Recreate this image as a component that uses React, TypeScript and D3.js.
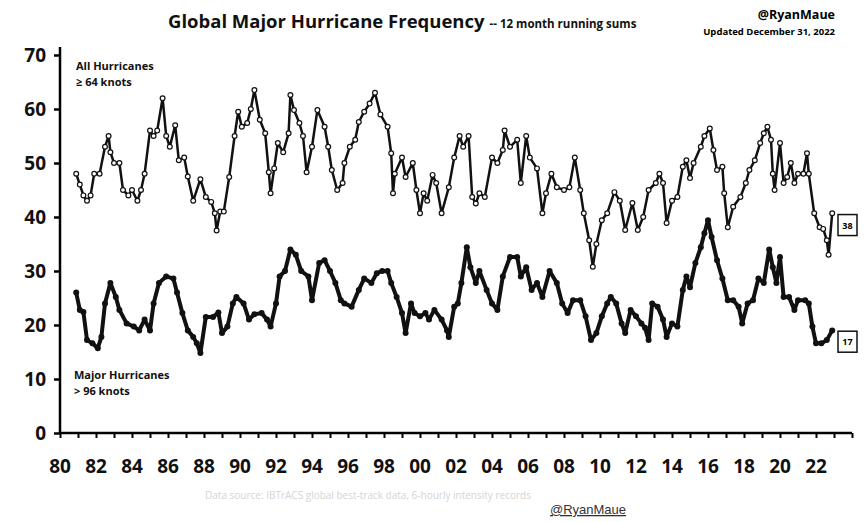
import React, { useEffect, useRef } from 'react';
import * as d3 from 'd3';

// 12-month running sums (decimal year, count)
const allYears = [
  1980.9, 1981.1, 1981.3, 1981.5, 1981.7, 1981.9, 1982.2, 1982.5, 1982.7, 1982.8,
  1983.0, 1983.3, 1983.5, 1983.8, 1984.0, 1984.3, 1984.5, 1984.7, 1985.0, 1985.2,
  1985.4, 1985.7, 1985.9, 1986.1, 1986.4, 1986.6, 1986.9, 1987.1, 1987.4, 1987.8,
  1988.1, 1988.4, 1988.6, 1988.7, 1988.9, 1989.1, 1989.4, 1989.7, 1989.9, 1990.1,
  1990.4, 1990.6, 1990.8, 1991.1, 1991.4, 1991.6, 1991.7, 1991.9, 1992.1, 1992.4,
  1992.7, 1992.8, 1993.0, 1993.3, 1993.5, 1993.7, 1994.0, 1994.3, 1994.7, 1994.9,
  1995.1, 1995.4, 1995.7, 1995.8, 1996.1, 1996.4, 1996.6, 1996.9, 1997.2, 1997.5,
  1997.8, 1998.2, 1998.4, 1998.5, 1998.6, 1999.0, 1999.2, 1999.6, 1999.8, 2000.0,
  2000.2, 2000.4, 2000.7, 2000.9, 2001.2, 2001.6, 2001.9, 2002.2, 2002.4, 2002.7,
  2002.9, 2003.1, 2003.3, 2003.6, 2004.0, 2004.3, 2004.6, 2004.7, 2005.0, 2005.4,
  2005.6, 2005.9, 2006.1, 2006.5, 2006.8, 2007.0, 2007.3, 2007.6, 2008.0, 2008.3,
  2008.6, 2008.9, 2009.1, 2009.4, 2009.6, 2009.8, 2010.1, 2010.4, 2010.8, 2011.1,
  2011.4, 2011.8, 2012.1, 2012.4, 2012.7, 2013.1, 2013.3, 2013.5, 2013.7, 2014.0,
  2014.3, 2014.6, 2014.8, 2015.0, 2015.2, 2015.6, 2015.8, 2016.1, 2016.3, 2016.5,
  2016.8, 2016.9, 2017.1, 2017.4, 2017.8, 2018.1, 2018.3, 2018.6, 2018.9, 2019.1,
  2019.3, 2019.5, 2019.6, 2019.7, 2020.0, 2020.2, 2020.4, 2020.6, 2020.8, 2021.0,
  2021.3, 2021.5, 2021.6, 2021.9, 2022.2, 2022.4, 2022.6, 2022.7, 2022.9,
];
const allCounts = [
  48, 46, 44, 43, 44, 48, 48, 53, 55, 52,
  50, 50, 45, 44, 45, 43, 45, 48, 56, 55,
  56, 62, 55, 53, 57, 50.5, 51, 47.5, 43, 47,
  43.7, 42.8, 40.7, 37.5, 41, 41, 47.4, 55, 59.5, 56.7,
  57.4, 60, 63.5, 58, 55.5, 48.3, 44.4, 49, 53.7, 52,
  55.5, 62.6, 59.8, 57.4, 55, 48.3, 53, 59.8, 56.7, 53,
  48.7, 45, 46.3, 50, 53, 54.3, 57.6, 59.5, 61, 63,
  59, 56.7, 51.8, 44.4, 48, 51, 47.4, 50, 45, 40.7,
  44.4, 43, 47.8, 46.3, 40.7, 45.5, 51, 55, 53, 55,
  43.7, 42.5, 44.4, 43.7, 51, 50, 52.4, 56, 53, 54.3,
  46.3, 55, 51, 49, 40.7, 44.4, 48, 45.5, 45, 45.5,
  51, 45, 40.7, 35.7, 30.8, 35, 39.4, 40.7, 44.6, 43,
  37.6, 42.6, 37.6, 40, 45, 46.3, 48, 46.3, 38.9, 43,
  43.7, 49.3, 50.5, 47.2, 50, 53, 55, 56.4, 52.4, 48.7,
  49.3, 44.4, 38.1, 41.9, 43.7, 46.3, 48.7, 50.5, 53.7, 55.5,
  56.7, 54.3, 48, 45, 53.7, 46.3, 47.4, 50, 46.3, 48,
  48, 51.8, 48, 40.7, 38.1, 37.8, 35.7, 33, 40.7,
];

const majorYears = [
  1980.9, 1981.1, 1981.3, 1981.5, 1981.8, 1982.1, 1982.3, 1982.5, 1982.8, 1983.1,
  1983.3, 1983.7, 1984.1, 1984.4, 1984.7, 1985.0, 1985.2, 1985.5, 1985.9, 1986.3,
  1986.5, 1986.8, 1987.1, 1987.4, 1987.6, 1987.8, 1988.1, 1988.5, 1988.8, 1989.0,
  1989.3, 1989.6, 1989.8, 1990.2, 1990.5, 1990.8, 1991.2, 1991.5, 1991.7, 1992.0,
  1992.2, 1992.5, 1992.8, 1993.1, 1993.4, 1993.8, 1994.0, 1994.4, 1994.7, 1995.0,
  1995.3, 1995.6, 1995.8, 1996.2, 1996.6, 1996.9, 1997.3, 1997.6, 1997.9, 1998.2,
  1998.4, 1998.7, 1999.0, 1999.2, 1999.5, 1999.7, 2000.0, 2000.3, 2000.5, 2000.8,
  2001.2, 2001.5, 2001.6, 2001.9, 2002.1, 2002.3, 2002.6, 2002.8, 2003.1, 2003.3,
  2003.7, 2004.0, 2004.3, 2004.6, 2005.0, 2005.4, 2005.6, 2005.9, 2006.2, 2006.5,
  2006.8, 2007.2, 2007.6, 2007.9, 2008.2, 2008.5, 2008.9, 2009.2, 2009.5, 2009.8,
  2010.1, 2010.4, 2010.6, 2010.9, 2011.2, 2011.4, 2011.7, 2012.0, 2012.3, 2012.5,
  2012.7, 2012.9, 2013.2, 2013.5, 2013.7, 2014.0, 2014.3, 2014.6, 2014.8, 2015.0,
  2015.3, 2015.6, 2015.8, 2016.0, 2016.2, 2016.5, 2016.8, 2017.1, 2017.4, 2017.7,
  2017.9, 2018.2, 2018.5, 2018.8, 2019.1, 2019.4, 2019.6, 2019.8, 2020.0, 2020.2,
  2020.5, 2020.8, 2021.0, 2021.4, 2021.6, 2021.8, 2022.0, 2022.3, 2022.6, 2022.9,
];
const majorCounts = [
  26, 22.8, 22.4, 17.2, 16.6, 15.7, 17.8, 24, 27.8, 25.2,
  22.8, 20.3, 19.7, 19, 21, 19, 24, 27.8, 29, 28.6,
  26, 22.2, 19, 17.8, 16.6, 14.8, 21.5, 21.5, 22.3, 18.5,
  19.7, 24, 25.2, 24, 21, 22, 22.2, 21, 19.7, 24,
  29, 30, 34, 33, 30, 29, 24.6, 31.5, 32, 30,
  27.8, 24.6, 24, 23.4, 26.5, 28.6, 27.8, 29.6, 30, 30,
  27.8, 25.2, 22.2, 18.5, 24, 22.2, 21.6, 22.2, 21, 22.8,
  21, 19, 17.8, 23.4, 24, 27.8, 34.4, 30.7, 27.8, 30,
  26.5, 24, 22.8, 29, 32.6, 32.6, 29, 30.7, 26.5, 27.8,
  25.2, 30, 27.8, 24, 22.2, 24.6, 24.6, 21.6, 17.2, 18.5,
  21.6, 24, 25.2, 24, 20.3, 18.5, 22.8, 21.6, 20.3, 19.5,
  17.2, 24, 23.4, 21, 17.8, 20.3, 19.7, 26.5, 29, 27,
  31.5, 34.4, 37, 39.4, 36.3, 32, 28.6, 24.6, 24.6, 23.4,
  20.3, 24, 24.6, 28.6, 27.8, 34, 30.7, 27.8, 32.6, 25.2,
  25.2, 22.8, 24.6, 24.6, 24, 19.7, 16.6, 16.6, 17.2, 19,
];

const yTicks = [0, 10, 20, 30, 40, 50, 60, 70];
const xLabelYears = [
  1980, 1982, 1984, 1986, 1988, 1990, 1992, 1994, 1996, 1998, 2000,
  2002, 2004, 2006, 2008, 2010, 2012, 2014, 2016, 2018, 2020, 2022,
];
const endLabels = [{ text: '38', value: 38.6 }, { text: '17', value: 17 }];

const FONT = "'Open Sans', 'DejaVu Sans', sans-serif";

function App() {
  const chartRef = useRef<SVGSVGElement>(null);

  useEffect(() => {
    document.body.style.margin = '0';
    const svg = d3.select(chartRef.current);
    svg.selectAll('*').remove();

    const x = d3.scaleLinear().domain([1980, 2024]).range([60, 852]);
    const y = d3.scaleLinear().domain([0, 70]).range([433, 55]);

    // title block
    const title = svg.append('text')
      .attr('x', 168).attr('y', 28)
      .style('font-family', FONT).style('font-weight', 700).style('fill', '#111');
    title.append('tspan').style('font-size', '18.5px').text('Global Major Hurricane Frequency');
    title.append('tspan').attr('dx', 5).style('font-size', '11.5px').text('-- 12 month running sums');

    svg.append('text')
      .attr('x', 835).attr('y', 19).attr('text-anchor', 'end')
      .style('font-family', FONT).style('font-weight', 700).style('font-size', '12.5px')
      .text('@RyanMaue');
    svg.append('text')
      .attr('x', 835).attr('y', 35).attr('text-anchor', 'end')
      .style('font-family', FONT).style('font-weight', 700).style('font-size', '9.5px')
      .text('Updated December 31, 2022');

    // axes
    const yAxis = svg.append('g')
      .attr('transform', 'translate(60,0)')
      .call(d3.axisLeft(y).tickValues(yTicks).tickSize(6).tickPadding(8).tickFormat(d3.format('d')));
    yAxis.select('.domain').attr('stroke-width', 2.5).attr('d', `M0,${y(0)}V${y(70) - 8}`);
    yAxis.selectAll('line').attr('stroke-width', 2.5);
    yAxis.selectAll('text')
      .style('font-family', FONT).style('font-weight', 700).style('font-size', '19px').attr('fill', '#111');

    const xAxis = svg.append('g')
      .attr('transform', `translate(0,${y(0)})`)
      .call(d3.axisBottom(x).tickValues(d3.range(1980, 2025)).tickSize(5).tickFormat(() => ''));
    xAxis.select('.domain').attr('stroke-width', 2.5).attr('d', `M60,0H${x(2024)}`);
    xAxis.selectAll('line').attr('stroke-width', 2);

    svg.append('g').selectAll('text')
      .data(xLabelYears)
      .join('text')
      .attr('x', d => x(d))
      .attr('y', 473)
      .attr('text-anchor', 'middle')
      .style('font-family', FONT).style('font-weight', 700).style('font-size', '19px')
      .attr('fill', '#111')
      .text(d => String(d % 100).padStart(2, '0'));

    // series
    const allData = allYears.map((yr, i) => [yr, allCounts[i]] as [number, number]);
    const majorData = majorYears.map((yr, i) => [yr, majorCounts[i]] as [number, number]);
    const line = d3.line<[number, number]>().x(d => x(d[0])).y(d => y(d[1]));

    svg.append('path')
      .datum(majorData)
      .attr('d', line)
      .attr('fill', 'none')
      .attr('stroke', '#111')
      .attr('stroke-width', 4)
      .attr('stroke-linejoin', 'round');
    svg.append('g').selectAll('circle')
      .data(majorData)
      .join('circle')
      .attr('cx', d => x(d[0]))
      .attr('cy', d => y(d[1]))
      .attr('r', 3)
      .attr('fill', '#111');

    svg.append('path')
      .datum(allData)
      .attr('d', line)
      .attr('fill', 'none')
      .attr('stroke', '#111')
      .attr('stroke-width', 2.5)
      .attr('stroke-linejoin', 'round');
    svg.append('g').selectAll('circle')
      .data(allData)
      .join('circle')
      .attr('cx', d => x(d[0]))
      .attr('cy', d => y(d[1]))
      .attr('r', 2.4)
      .attr('fill', '#fff')
      .attr('stroke', '#111')
      .attr('stroke-width', 1.2);

    // series labels
    const label = (lx: number, ly: number, lines: string[]) => {
      lines.forEach((t, i) => {
        svg.append('text')
          .attr('x', lx).attr('y', ly + i * 16)
          .style('font-family', FONT).style('font-weight', 700).style('font-size', '11px')
          .attr('fill', '#111')
          .text(t);
      });
    };
    label(76, 70, ['All Hurricanes', '\u2265 64 knots']);
    label(74, 379, ['Major Hurricanes', '> 96 knots']);

    // boxed end values
    endLabels.forEach(e => {
      const cy = y(e.value);
      svg.append('rect')
        .attr('x', 838).attr('y', cy - 10)
        .attr('width', 19).attr('height', 21)
        .attr('fill', '#fff').attr('stroke', '#111').attr('stroke-width', 1.5);
      svg.append('text')
        .attr('x', 847.5).attr('y', cy + 4)
        .attr('text-anchor', 'middle')
        .style('font-family', FONT).style('font-weight', 700).style('font-size', '9px')
        .text(e.text);
    });

    // footer
    svg.append('text')
      .attr('x', 205).attr('y', 499)
      .style('font-family', FONT).style('font-size', '10px')
      .attr('fill', '#d4d4d4')
      .text('Data source: IBTrACS global best-track data, 6-hourly intensity records');
    svg.append('text')
      .attr('x', 550).attr('y', 514)
      .style('font-family', "'Liberation Sans', sans-serif").style('font-size', '13px')
      .style('text-decoration', 'underline')
      .attr('fill', '#333')
      .text('@RyanMaue');
  }, []);

  return <svg ref={chartRef} width={866} height={522} style={{ display: 'block', background: '#fff' }} />;
}

export default App;
